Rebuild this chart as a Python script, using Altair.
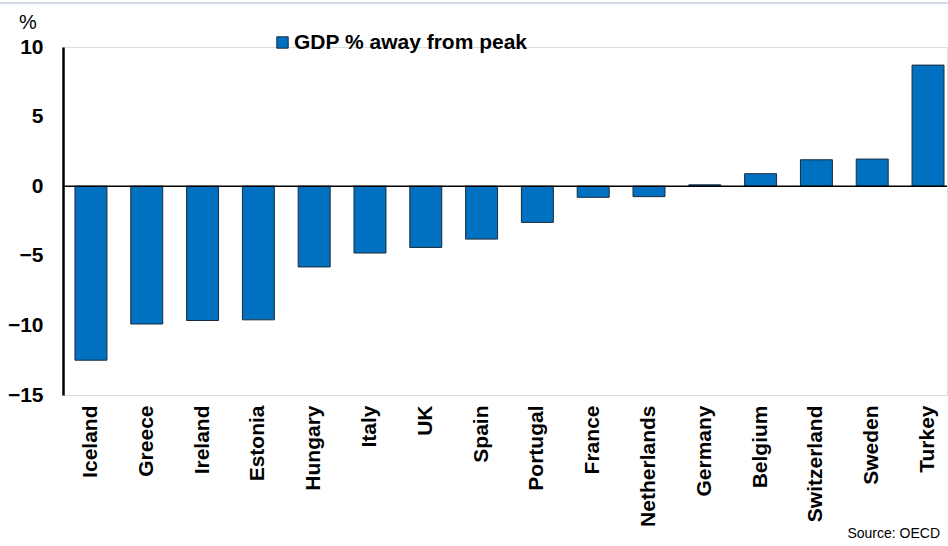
import altair as alt
import pandas as pd

countries = ["Iceland", "Greece", "Ireland", "Estonia", "Hungary", "Italy", "UK", "Spain",
             "Portugal", "France", "Netherlands", "Germany", "Belgium", "Switzerland", "Sweden", "Turkey"]
values = [-12.5, -9.9, -9.65, -9.6, -5.8, -4.8, -4.4, -3.8,
          -2.6, -0.8, -0.75, 0.1, 0.9, 1.9, 1.95, 8.7]
series = "GDP % away from peak"
y_ticks = [-15, -10, -5, 0, 5, 10]

df = pd.DataFrame({"country": countries, "value": values, "series": [series] * len(countries)})

FONT = "Liberation Sans"
W, H = 884, 348

bars = alt.Chart(df).mark_bar(stroke="#1c2a3a", strokeWidth=1, fill="#0070C0").encode(
    x=alt.X("country:N", sort=countries,
            scale=alt.Scale(paddingInner=0.427, paddingOuter=0.134, align=0.8),
            axis=alt.Axis(title=None, domain=False, ticks=False, labelAngle=270,
                          labelAlign="right", labelBaseline="middle", labelPadding=10,
                          labelFont=FONT, labelFontSize=21, labelFontWeight="bold",
                          labelColor="black")),
    y=alt.Y("value:Q", scale=alt.Scale(domain=[-15, 10], nice=False, zero=False),
            axis=alt.Axis(title=None, values=y_ticks, grid=False, ticks=False,
                          domainColor="black", domainWidth=2.5, labelPadding=20,
                          labelFont=FONT, labelFontSize=21, labelFontWeight="bold",
                          labelColor="black")),
    color=alt.Color("series:N", scale=alt.Scale(range=["#0070C0"]),
                    legend=alt.Legend(title=None, orient="none", legendX=209, legendY=-15,
                                      symbolType="square", symbolSize=130,
                                      symbolStrokeColor="#1c2a3a", symbolStrokeWidth=1,
                                      labelFont=FONT, labelFontSize=21, labelFontWeight="bold",
                                      labelColor="black", labelOffset=1, labelLimit=0)),
)

zero = alt.Chart(pd.DataFrame({"y": [0]})).mark_rule(color="black", strokeWidth=1.5).encode(
    y="y:Q", x=alt.value(0), x2=alt.value(W))

topline = alt.Chart(pd.DataFrame({"y": [0]})).mark_rule(color="#c3d1de", strokeWidth=1.5).encode(
    y=alt.value(-44), x=alt.value(-63), x2=alt.value(W + 1))

pct = alt.Chart(pd.DataFrame({"t": ["%"]})).mark_text(
    font=FONT, fontSize=20, align="left", baseline="alphabetic", color="black").encode(
    text="t:N", x=alt.value(-44), y=alt.value(-18))

source = alt.Chart(pd.DataFrame({"t": ["Source: OECD"]})).mark_text(
    font=FONT, fontSize=14, align="right", baseline="alphabetic", color="black").encode(
    text="t:N", x=alt.value(877), y=alt.value(491))

chart = alt.layer(topline, bars, zero, pct, source).properties(
    width=W, height=H,
    autosize=alt.AutoSizeParams(type="none"),
    padding={"left": 63, "top": 47, "right": 1, "bottom": 151},
).configure_view(stroke=None).configure(background="white")

chart.save("out.html", embed_options={"renderer": "svg", "actions": False})
